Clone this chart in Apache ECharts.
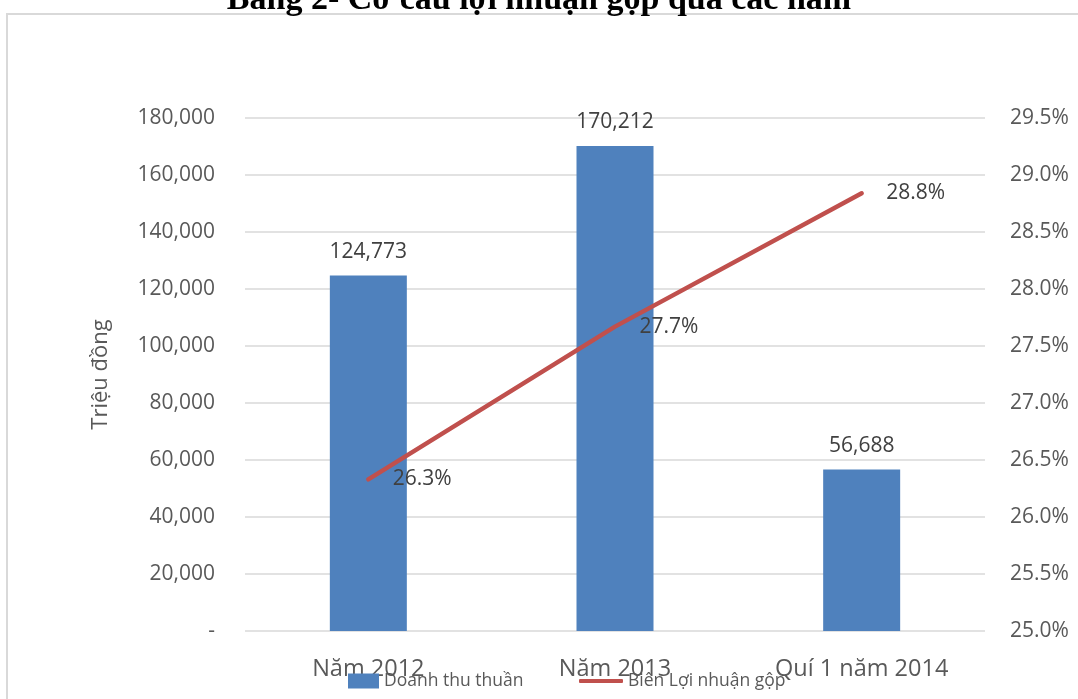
<!DOCTYPE html>
<html style="height: 100%">
<head>
  <meta charset="utf-8">
</head>
<body style="height: 100%; margin: 0">
  <div id="container" style="height: 100%"></div>
  <script type="text/javascript" src="https://cdn.jsdelivr.net/npm/echarts@6/dist/echarts.min.js"></script>
  <script type="text/javascript">
  var categories = ['Năm 2012', 'Năm 2013', 'Quí 1 năm 2014'];
  var revenue = [124773, 170212, 56688];
  var margin = [26.33, 27.67, 28.84];

  var dom = document.getElementById('container');
  var myChart = echarts.init(dom);
  var textColor = '#595959';
  var font = '"Open Sans", "DejaVu Sans", sans-serif';

  var option = {
    animation: false,
    textStyle: { fontFamily: font },
    title: {
      text: 'Bảng 2- Cơ cấu lợi nhuận gộp qua các năm',
      left: 'center',
      top: -22,
      textStyle: {
        fontFamily: '"Liberation Serif", "Times New Roman", serif',
        fontWeight: 'bold',
        fontSize: 34,
        color: '#000'
      }
    },
    graphic: [{
      type: 'rect',
      shape: { x: 7, y: 14, width: 1200, height: 800 },
      style: { fill: 'none', stroke: '#d9d9d9', lineWidth: 2 },
      z: -10
    }],
    legend: [{
      bottom: 4,
      left: 343,
      itemWidth: 31,
      itemHeight: 15,
      itemGap: 3,
      textStyle: { fontSize: 17.5, color: textColor, fontFamily: font },
      data: [{ name: 'Doanh thu thuần', icon: 'rect' }]
    }, {
      bottom: 4,
      left: 574,
      itemWidth: 44,
      itemHeight: 4,
      textStyle: { fontSize: 17.5, color: textColor, fontFamily: font },
      data: [{ name: 'Biên Lợi nhuận gộp', icon: 'roundRect' }]
    }],
    grid: {
      left: 245,
      right: 93,
      top: 118,
      bottom: 68
    },
    xAxis: {
      type: 'category',
      data: categories,
      axisLine: { show: false },
      axisTick: { show: false },
      axisLabel: { fontSize: 23.5, color: textColor, margin: 26 }
    },
    yAxis: [{
      type: 'value',
      min: 0,
      max: 180000,
      interval: 20000,
      name: 'Triệu đồng',
      nameLocation: 'middle',
      nameGap: 133,
      nameTextStyle: { fontSize: 22, color: textColor },
      axisLabel: {
        fontSize: 21,
        color: textColor,
        margin: 30,
        formatter: function (v) {
          return v === 0 ? '-' : v.toLocaleString('en-US');
        }
      },
      splitLine: { lineStyle: { color: '#d9d9d9', width: 1.5 } }
    }, {
      type: 'value',
      min: 25,
      max: 29.5,
      interval: 0.5,
      position: 'right',
      axisLabel: {
        fontSize: 21,
        color: textColor,
        margin: 25,
        formatter: function (v) { return v.toFixed(1) + '%'; }
      },
      splitLine: { show: false }
    }],
    series: [{
      name: 'Doanh thu thuần',
      type: 'bar',
      data: revenue,
      barWidth: 77,
      itemStyle: { color: '#4F81BD' },
      label: {
        show: true,
        position: 'top',
        distance: 13,
        fontSize: 21,
        color: '#404040',
        formatter: function (p) { return p.value.toLocaleString('en-US'); }
      }
    }, {
      name: 'Biên Lợi nhuận gộp',
      type: 'line',
      yAxisIndex: 1,
      data: margin,
      symbol: 'circle',
      symbolSize: 1,
      lineStyle: { color: '#C0504D', width: 4.5, cap: 'round' },
      itemStyle: { color: '#C0504D' },
      label: {
        show: true,
        position: 'right',
        distance: 24,
        fontSize: 21,
        color: '#404040',
        formatter: function (p) { return p.value.toFixed(1) + '%'; }
      }
    }]
  };

  myChart.setOption(option);
  </script>
</body>
</html>
